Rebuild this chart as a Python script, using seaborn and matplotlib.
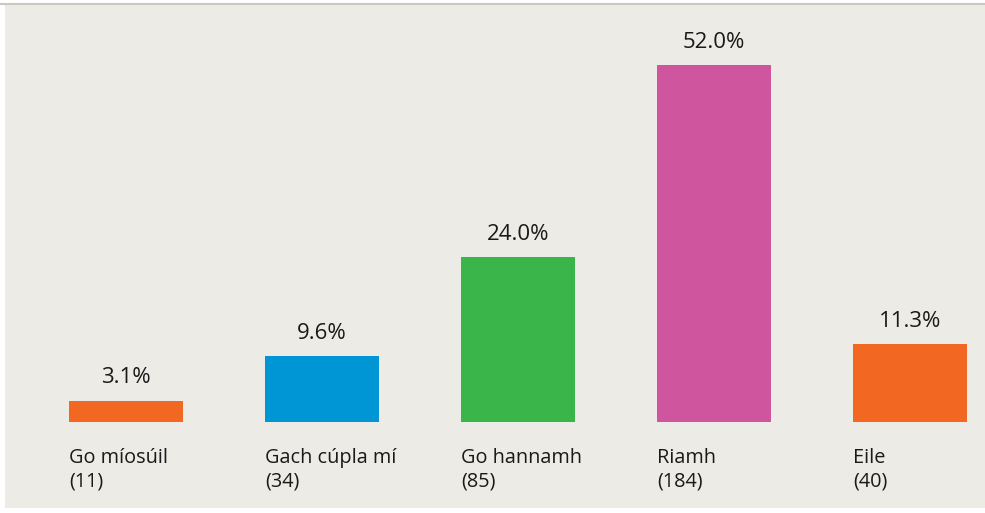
import matplotlib
matplotlib.use("Agg")
import matplotlib.pyplot as plt
import seaborn as sns
import pandas as pd
from matplotlib.patches import Rectangle

categories = ["Go míosúil", "Gach cúpla mí", "Go hannamh", "Riamh", "Eile"]
counts = ["(11)", "(34)", "(85)", "(184)", "(40)"]
percent = [3.1, 9.6, 24.0, 52.0, 11.3]
colors = ["#F26722", "#0096D6", "#3AB54A", "#CF559E", "#F26722"]

sns.set_theme(style="white")
plt.rcParams['font.family'] = ['Open Sans', 'DejaVu Sans']

W, H = 985, 513
fig = plt.figure(figsize=(W / 100, H / 100), dpi=100, facecolor="white")
# panel background
fig.patches.append(Rectangle((5 / W, 5 / H), 1, (H - 9) / H, transform=fig.transFigure,
                             facecolor="#ECEBE6", edgecolor="none", zorder=-2))
fig.lines.append(plt.Line2D([0, 1], [1 - 3.5 / H, 1 - 3.5 / H], transform=fig.transFigure,
                            color="#C9C8C3", lw=1.5, zorder=-1))

ax = fig.add_axes([0, 0, 1, 1])
ax.set_facecolor("none")
df = pd.DataFrame({"cat": categories, "pct": percent})
sns.barplot(data=df, x="cat", y="pct", hue="cat", palette=colors, legend=False,
            width=114 / 196, saturation=1, linewidth=0, ax=ax)

ax.set_xlim(-126 / 196, (W - 126) / 196)
scale = 357 / 52.0
ax.set_ylim(-91 / scale, (H - 91) / scale)
ax.axis("off")

half = 57 / 196
for i, (p, c, n) in enumerate(zip(percent, categories, counts)):
    ax.text(i, p + 23 / scale, f"{p:.1f}%", ha="center", va="center",
            fontsize=16, color="#1a1a1a")
    ax.text(i - half, -36 / scale, c, ha="left", va="center", fontsize=14.3, color="#1a1a1a")
    ax.text(i - half, -59 / scale, n, ha="left", va="center", fontsize=14.3, color="#1a1a1a")

fig.savefig("out.png", dpi=100, facecolor=fig.get_facecolor())
